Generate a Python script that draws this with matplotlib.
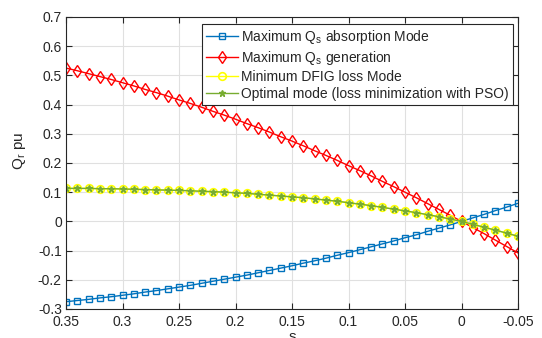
import matplotlib
matplotlib.use("Agg")
import matplotlib.pyplot as plt
from matplotlib.ticker import FixedLocator, FuncFormatter

plt.rcParams['font.family'] = ['Liberation Sans', 'DejaVu Sans']
plt.rcParams['mathtext.fontset'] = 'custom'
plt.rcParams['mathtext.rm'] = 'Liberation Sans'
plt.rcParams['mathtext.it'] = 'Liberation Sans'

# slip values (0.35 down to -0.05)
s = [0.35, 0.34, 0.33, 0.32, 0.31, 0.30, 0.29, 0.28, 0.27, 0.26,
     0.25, 0.24, 0.23, 0.22, 0.21, 0.20, 0.19, 0.18, 0.17, 0.16,
     0.15, 0.14, 0.13, 0.12, 0.11, 0.10, 0.09, 0.08, 0.07, 0.06,
     0.05, 0.04, 0.03, 0.02, 0.01, 0.00, -0.01, -0.02, -0.03, -0.04, -0.05]

qr_absorption = [-0.275, -0.271, -0.267, -0.262, -0.258, -0.253, -0.248, -0.242, -0.237, -0.231,
                 -0.225, -0.219, -0.212, -0.205, -0.198, -0.191, -0.184, -0.176, -0.168, -0.160,
                 -0.152, -0.143, -0.135, -0.126, -0.116, -0.107, -0.097, -0.087, -0.077, -0.067,
                 -0.056, -0.046, -0.034, -0.023, -0.012, 0.000, 0.012, 0.024, 0.037, 0.049, 0.062]

qr_generation = [0.525, 0.516, 0.506, 0.496, 0.486, 0.475, 0.464, 0.452, 0.441, 0.429,
                 0.416, 0.404, 0.391, 0.377, 0.364, 0.350, 0.335, 0.321, 0.306, 0.290,
                 0.275, 0.259, 0.242, 0.226, 0.209, 0.191, 0.174, 0.156, 0.137, 0.119,
                 0.100, 0.081, 0.061, 0.041, 0.021, 0.000, -0.021, -0.042, -0.064, -0.086, -0.108]

qr_min_loss = [0.113, 0.113, 0.113, 0.112, 0.112, 0.111, 0.110, 0.109, 0.108, 0.107,
               0.106, 0.105, 0.103, 0.102, 0.100, 0.098, 0.096, 0.093, 0.090, 0.087,
               0.084, 0.081, 0.077, 0.073, 0.069, 0.064, 0.059, 0.054, 0.048, 0.042,
               0.036, 0.030, 0.023, 0.016, 0.008, 0.000, -0.010, -0.020, -0.030, -0.040, -0.051]

qr_optimal = [0.113, 0.113, 0.113, 0.112, 0.112, 0.111, 0.110, 0.109, 0.108, 0.107,
              0.106, 0.105, 0.103, 0.102, 0.100, 0.098, 0.096, 0.093, 0.090, 0.087,
              0.084, 0.081, 0.077, 0.073, 0.069, 0.064, 0.059, 0.054, 0.048, 0.042,
              0.036, 0.030, 0.023, 0.016, 0.008, 0.000, -0.010, -0.020, -0.030, -0.040, -0.051]

labels = ['Maximum Q$_\\mathregular{s}$ absorption Mode',
          'Maximum Q$_\\mathregular{s}$ generation',
          'Minimum DFIG loss Mode',
          'Optimal mode (loss minimization with PSO)']

x_ticks = [0.35, 0.3, 0.25, 0.2, 0.15, 0.1, 0.05, 0, -0.05]
x_ticklabels = ['0.35', '0.3', '0.25', '0.2', '0.15', '0.1', '0.05', '0', '-0.05']
y_ticks = [-0.3, -0.2, -0.1, 0, 0.1, 0.2, 0.3, 0.4, 0.5, 0.6, 0.7]

blue = (0.0, 0.447, 0.741)
red = (1.0, 0.0, 0.0)
yellow = (1.0, 1.0, 0.0)
green = (0.466, 0.674, 0.188)
txt = (0.15, 0.15, 0.15)

fig = plt.figure(figsize=(5.42, 3.38), dpi=100)
ax = fig.add_axes([66/542, 1 - 309/338, (518 - 66)/542, (309 - 17)/338])

ax.plot(s, qr_absorption, '-s', color=blue, lw=1.0, ms=4, mfc='none', mew=1.0, label=labels[0])
ax.plot(s, qr_generation, '-d', color=red, lw=1.0, ms=6, mfc='none', mew=1.0, label=labels[1])
ax.plot(s, qr_min_loss, '-o', color=yellow, lw=1.0, ms=5.5, mfc='none', mew=1.2, label=labels[2])
ax.plot(s, qr_optimal, '-*', color=green, lw=1.0, ms=5, label=labels[3])

ax.set_xlim(0.35, -0.05)
ax.set_ylim(-0.3, 0.7)
ax.xaxis.set_major_locator(FixedLocator(x_ticks))
ax.set_xticklabels(x_ticklabels)
ax.yaxis.set_major_locator(FixedLocator(y_ticks))
ax.yaxis.set_major_formatter(FuncFormatter(lambda v, p: ('%g' % round(v, 2)) if abs(v) > 1e-9 else '0'))

ax.grid(True, color=(0.88, 0.88, 0.88), lw=0.8)
ax.set_axisbelow(True)
ax.tick_params(direction='in', top=True, right=True, length=4, width=0.8,
               colors=txt, labelsize=10)
ax.tick_params(axis='x', pad=4)
ax.tick_params(axis='y', pad=3)
for sp in ax.spines.values():
    sp.set_color(txt)
    sp.set_linewidth(0.8)

ax.set_xlabel('s', fontsize=11, color=txt, labelpad=1)
ax.set_ylabel('Q$_\\mathregular{r}$ pu', fontsize=11, color=txt, labelpad=2)
ax.yaxis.set_label_coords(-0.085, 0.54)

leg = ax.legend(loc='upper right', bbox_to_anchor=(513/542, 1 - 24/338),
                bbox_transform=fig.transFigure, fontsize=10, frameon=True,
                fancybox=False, edgecolor=txt, framealpha=1.0,
                handlelength=2.3, handletextpad=0.25, labelspacing=0.2,
                borderpad=0.3, borderaxespad=0.0, markerscale=1.0)
leg.get_frame().set_linewidth(0.8)
for t in leg.get_texts():
    t.set_color(txt)

fig.savefig('out.png', dpi=100)
